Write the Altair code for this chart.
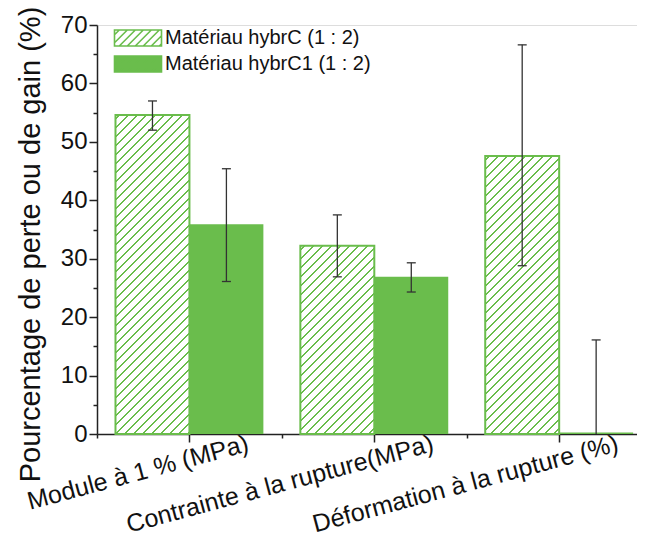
import altair as alt
import pandas as pd

categories = ["Module à 1 % (MPa)", "Contrainte à la rupture(MPa)", "Déformation à la rupture (%)"]
series = ["Matériau hybrC (1 : 2)", "Matériau hybrC1 (1 : 2)"]
hybrC_values = [54.6, 32.2, 47.6]
hybrC_low = [52.0, 26.9, 28.8]
hybrC_high = [57.0, 37.5, 66.6]
hybrC1_values = [35.9, 26.9, 0.25]
hybrC1_low = [26.1, 24.3, 0.0]
hybrC1_high = [45.4, 29.3, 16.1]
y_tick_values = [0, 5, 10, 15, 20, 25, 30, 35, 40, 45, 50, 55, 60, 65, 70]
x_tick_values = [0.5, 1, 1.5, 2, 2.5, 3]

GREEN = "#6abd4c"
FONT = "Liberation Sans"
W, H = 540, 409
X_DOM = [0.5, 3.421]
Y_DOM = [0, 70]
BAR_W = 0.4

rows = []
for i, c in enumerate(categories):
    rows.append(dict(pos=i + 1, series=series[0], side=-1, value=hybrC_values[i], low=hybrC_low[i], high=hybrC_high[i]))
    rows.append(dict(pos=i + 1, series=series[1], side=0, value=hybrC1_values[i], low=hybrC1_low[i], high=hybrC1_high[i]))
df = pd.DataFrame(rows)

px_per_x = W / (X_DOM[1] - X_DOM[0])
px_per_y = H / (Y_DOM[1] - Y_DOM[0])


def hatch_gradient(value, period=9.0, line=2.3):
    w = BAR_W * px_per_x
    h = max(value * px_per_y, 1.0)
    L = w + h
    c = (1 / h + 1 / w) / (1 / h ** 2 + 1 / w ** 2)
    stops = [{"offset": 0, "color": "white"}]
    s = 3.0
    while s < L:
        e = min(s + line, L)
        stops += [
            {"offset": s / L, "color": "white"},
            {"offset": s / L, "color": GREEN},
            {"offset": e / L, "color": GREEN},
            {"offset": e / L, "color": "white"},
        ]
        s += period
    stops.append({"offset": 1, "color": "white"})
    return {"gradient": "linear", "x1": 0, "y1": 0, "x2": c / h, "y2": c / w, "stops": stops}


# legend swatch path: 47 x 16 px rectangle with diagonal hatching.
# symbol size 256 -> one path unit = 8 px
SYM = 256
u = 8.0
hw = 23.5 / u
hh = 8.0 / u
sp = 8.0 / u
parts = [f"M{-hw:.4f},{-hh:.4f}H{hw:.4f}V{hh:.4f}H{-hw:.4f}Z"]
k = -hw - hh + sp * 0.6
while k < hw + hh:
    y_lo = max(-hh, k - hw)
    y_hi = min(hh, k + hw)
    if y_hi > y_lo:
        parts.append(f"M{k - y_hi:.4f},{y_hi:.4f}L{k - y_lo:.4f},{y_lo:.4f}")
    k += sp
swatch_path = "".join(parts)

label_expr = "datum.value % 1 === 0 ? " + str(categories) + "[datum.value - 1] : ''"

x_axis = alt.Axis(
    values=x_tick_values, labelExpr=label_expr, title=None, grid=False,
    labelAngle=345, labelAlign="right", labelBaseline="top", labelOffset=55,
    labelPadding=-11,
    labelFontSize=25, labelFont=FONT, labelColor="#111",
    labelFlush=False, labelOverlap=False, labelBound=False, labelLimit=0,
    tickSize=8, tickColor="#222", tickWidth=1.5, domainColor="#222", domainWidth=1.5,
    tickDash=alt.condition("datum.value % 1 !== 0", alt.value([4, 30]), alt.value([1, 0])),
)
y_axis = alt.Axis(
    values=y_tick_values, labelExpr="datum.value % 10 === 0 ? datum.value : ''",
    title="Pourcentage de perte ou de gain (%)", grid=False,
    titleFontSize=29, titleFont=FONT, titleFontWeight="normal", titleColor="#111",
    titleAngle=270, titleX=-58, titleY=219, titleAlign="center", titleBaseline="alphabetic",
    titleLimit=0,
    labelFontSize=24, labelFont=FONT, labelColor="#111", labelPadding=2,
    labelFlush=False, labelOverlap=False,
    tickSize=8, tickColor="#222", tickWidth=1.5, domainColor="#222", domainWidth=1.5,
    tickDash=alt.condition("datum.value % 10 !== 0", alt.value([4, 30]), alt.value([1, 0])),
)
xs = alt.Scale(domain=X_DOM, nice=False, zero=False)
ys = alt.Scale(domain=Y_DOM, nice=False)

base = alt.Chart(df).transform_calculate(
    x0="datum.pos + (datum.side < 0 ? -%f : 0)" % BAR_W,
    x1="datum.pos + (datum.side < 0 ? 0 : %f)" % BAR_W,
    xc="datum.pos + (datum.side < 0 ? -%f : %f)" % (BAR_W / 2, BAR_W / 2),
    zero="0",
)

layers = []
for i in range(len(categories)):
    layers.append(
        base.transform_filter(
            (alt.datum.series == series[0]) & (alt.datum.pos == i + 1)
        ).mark_rect(fill=hatch_gradient(hybrC_values[i]), stroke=GREEN, strokeWidth=2).encode(
            x=alt.X("x0:Q", scale=xs, axis=x_axis),
            x2="x1:Q",
            y=alt.Y("value:Q", scale=ys, axis=y_axis),
            y2="zero:Q",
        )
    )

filled = base.transform_filter(alt.datum.series == series[1]).mark_rect().encode(
    x=alt.X("x0:Q", scale=xs, axis=x_axis),
    x2="x1:Q",
    y=alt.Y("value:Q", scale=ys, axis=y_axis),
    y2="zero:Q",
    fill=alt.Fill(
        "series:N",
        scale=alt.Scale(domain=series, range=["white", GREEN]),
        legend=alt.Legend(
            title=None, orient="none", legendX=31, legendY=3,
            symbolType=swatch_path, symbolSize=SYM, symbolStrokeColor=GREEN,
            symbolStrokeWidth=1.6, symbolOpacity=1,
            labelFontSize=20, labelFont=FONT, labelColor="#111", labelOffset=17,
            rowPadding=2, labelLimit=0,
        ),
    ),
)
layers.append(filled)

err_color = "#333333"
rules = base.mark_rule(color=err_color, strokeWidth=1.3).encode(
    x=alt.X("xc:Q", scale=xs, axis=x_axis),
    y=alt.Y("low:Q", scale=ys, axis=y_axis),
    y2="high:Q",
)
cap_lo = base.transform_filter(alt.datum.low > 0).mark_tick(
    orient="horizontal", size=9, thickness=1.3, color=err_color, opacity=1
).encode(x=alt.X("xc:Q", scale=xs, axis=x_axis), y=alt.Y("low:Q", scale=ys, axis=y_axis))
cap_hi = base.mark_tick(
    orient="horizontal", size=9, thickness=1.3, color=err_color, opacity=1
).encode(x=alt.X("xc:Q", scale=xs, axis=x_axis), y=alt.Y("high:Q", scale=ys, axis=y_axis))
layers += [rules, cap_lo, cap_hi]

chart = alt.layer(*layers).properties(
    width=W, height=H,
    padding={"left": 89, "top": 17, "right": 0, "bottom": 104},
    autosize=alt.AutoSizeParams(type="none"),
).configure_view(stroke=None).configure(background="white")

chart.save("out.html", embed_options={"renderer": "svg", "actions": False})
